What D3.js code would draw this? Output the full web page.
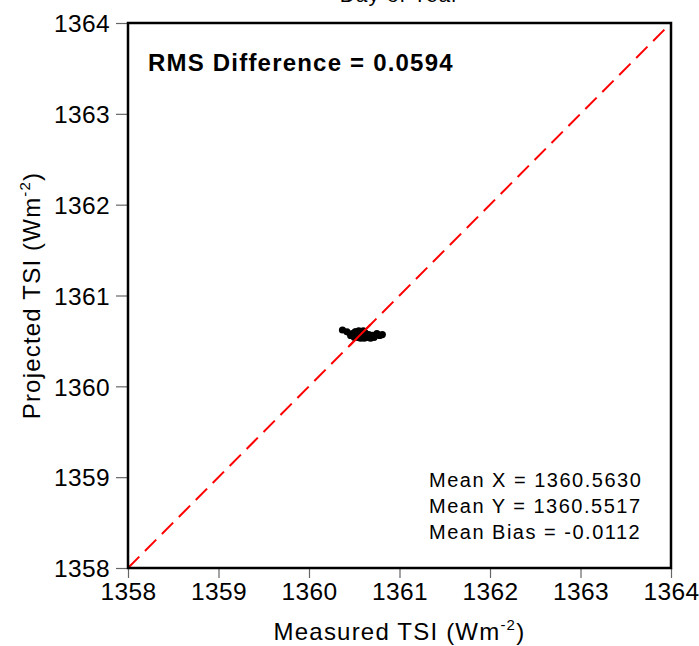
<!DOCTYPE html>
<html>
<head>
<meta charset="utf-8">
<script src="https://cdn.jsdelivr.net/npm/d3@7"></script>
<style>
  html, body { margin: 0; padding: 0; background: #fff; }
  svg { display: block; font-family: "Liberation Sans", Arial, Helvetica, sans-serif; }
</style>
</head>
<body>
<svg id="chart" width="699" height="646"></svg>
<script>
// Axis ranges and ticks (W m^-2)
const xDomain = [1358, 1364];
const yDomain = [1358, 1364];
const xTicks = [1358, 1359, 1360, 1361, 1362, 1363, 1364];
const yTicks = [1358, 1359, 1360, 1361, 1362, 1363, 1364];

// Measured vs projected TSI samples
const measured = [1360.37, 1360.42, 1360.46, 1360.48, 1360.50, 1360.51, 1360.52, 1360.53,
                  1360.54, 1360.55, 1360.55, 1360.56, 1360.57, 1360.58, 1360.58, 1360.59,
                  1360.60, 1360.61, 1360.62, 1360.63, 1360.64, 1360.66, 1360.68, 1360.70,
                  1360.72, 1360.75, 1360.78, 1360.81, 1360.52, 1360.60];
const projected = [1360.62, 1360.60, 1360.56, 1360.58, 1360.54, 1360.60, 1360.55, 1360.57,
                   1360.54, 1360.58, 1360.61, 1360.55, 1360.53, 1360.56, 1360.60, 1360.54,
                   1360.57, 1360.53, 1360.59, 1360.55, 1360.54, 1360.57, 1360.53, 1360.56,
                   1360.54, 1360.58, 1360.56, 1360.57, 1360.60, 1360.61];

// Summary statistics shown on the chart
const rmsDiff = "0.0594";
const statLines = ["Mean X = 1360.5630", "Mean Y = 1360.5517", "Mean Bias = -0.0112"];

const svg = d3.select("#chart");
const margin = { left: 128, right: 28, top: 23, bottom: 78 };
const W = 699, H = 646;

const x = d3.scaleLinear().domain(xDomain).range([margin.left, W - margin.right]);
const y = d3.scaleLinear().domain(yDomain).range([H - margin.bottom, margin.top]);

// Title, mostly above the visible area
svg.append("text")
  .attr("x", (x.range()[0] + x.range()[1]) / 2)
  .attr("y", 2)
  .attr("text-anchor", "middle")
  .attr("font-size", 21)
  .attr("letter-spacing", 1)
  .text("Day of Year");

// Axes (ticks outside the frame)
const xAxis = svg.append("g")
  .attr("transform", `translate(0,${y(yDomain[0])})`)
  .call(d3.axisBottom(x).tickValues(xTicks).tickFormat(d3.format("d")).tickSize(10).tickPadding(5));
const yAxis = svg.append("g")
  .attr("transform", `translate(${x(xDomain[0])},0)`)
  .call(d3.axisLeft(y).tickValues(yTicks).tickFormat(d3.format("d")).tickSize(12).tickPadding(6));
[xAxis, yAxis].forEach(g => {
  g.select(".domain").remove();
  g.selectAll(".tick line").attr("stroke", "#666").attr("stroke-width", 1.2);
  g.selectAll(".tick text").attr("font-size", 24.5).attr("fill", "#000")
    .attr("letter-spacing", 0.4)
    .attr("font-family", "Liberation Sans, Arial, sans-serif");
});
yAxis.selectAll(".tick text").attr("dy", "0.36em");

// 1:1 reference line
svg.append("line")
  .attr("x1", x(xDomain[0])).attr("y1", y(yDomain[0]))
  .attr("x2", x(xDomain[1])).attr("y2", y(yDomain[1]))
  .attr("stroke", "#ff0000").attr("stroke-width", 2)
  .attr("stroke-dasharray", "16,8");

// Scatter points
svg.append("g").selectAll("circle")
  .data(measured.map((m, i) => [m, projected[i]]))
  .join("circle")
  .attr("cx", d => x(d[0]))
  .attr("cy", d => y(d[1]))
  .attr("r", 3.6)
  .attr("fill", "#000");

// Diagonal drawn again across the point cloud
svg.append("line")
  .attr("x1", x(1360.45)).attr("y1", y(1360.45))
  .attr("x2", x(1360.68)).attr("y2", y(1360.68))
  .attr("stroke", "#ff0000").attr("stroke-width", 2);

// Plot frame
svg.append("rect")
  .attr("x", x(xDomain[0])).attr("y", y(yDomain[1]))
  .attr("width", x(xDomain[1]) - x(xDomain[0]))
  .attr("height", y(yDomain[0]) - y(yDomain[1]))
  .attr("fill", "none").attr("stroke", "#000").attr("stroke-width", 2.5);

// RMS annotation
svg.append("text")
  .attr("x", 148).attr("y", 71)
  .attr("font-size", 24).attr("font-weight", "bold")
  .attr("letter-spacing", 1.2)
  .text(`RMS Difference = ${rmsDiff}`);

// Mean statistics
svg.append("g").selectAll("text")
  .data(statLines)
  .join("text")
  .attr("x", 429)
  .attr("y", (d, i) => 487 + i * 26)
  .attr("font-size", 20)
  .attr("letter-spacing", 1.5)
  .text(d => d);

// Axis titles
const xt = svg.append("text")
  .attr("x", (x.range()[0] + x.range()[1]) / 2)
  .attr("y", 640)
  .attr("text-anchor", "middle")
  .attr("font-size", 24)
  .attr("letter-spacing", 1.2);
xt.append("tspan").text("Measured TSI (Wm");
xt.append("tspan").attr("dy", -10).attr("font-size", 15).text("-2");
xt.append("tspan").attr("dy", 10).text(")");

const yt = svg.append("text")
  .attr("transform", `translate(40,${(y.range()[0] + y.range()[1]) / 2}) rotate(-90)`)
  .attr("text-anchor", "middle")
  .attr("font-size", 24)
  .attr("letter-spacing", 1.2);
yt.append("tspan").text("Projected TSI (Wm");
yt.append("tspan").attr("dy", -10).attr("font-size", 15).text("-2");
yt.append("tspan").attr("dy", 10).text(")");
</script>
</body>
</html>
